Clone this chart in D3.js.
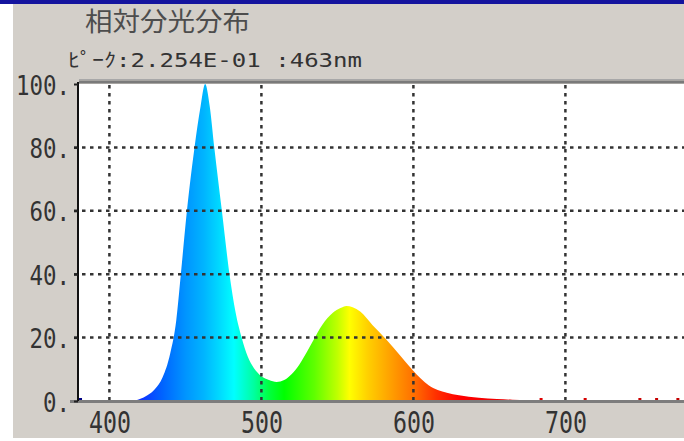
<!DOCTYPE html>
<html>
<head>
<meta charset="utf-8">
<script src="https://cdn.jsdelivr.net/npm/d3@7"></script>
<style>
html, body { margin: 0; padding: 0; background: #fff; }
svg { display: block; }
</style>
</head>
<body>
<svg width="684" height="441"></svg>
<script>
//	chart texts
var title = "相対分光分布",
    peakText = "ﾋﾟｰｸ:2.254E-01  :463nm";

//	axis ticks
var xTicks = [400, 500, 600, 700],
    yTicks = [0, 20, 40, 60, 80, 100];

//	relative spectrum (nm, %)
var wavelengths = [380, 415, 420, 425, 430, 435, 440, 444, 447, 451,
                   456, 460, 463, 466, 469, 474, 479, 483, 487, 491,
                   495, 500, 505, 510, 515, 520, 525, 530, 534, 540,
                   547, 552, 556, 560, 565, 573, 582, 591, 599, 605,
                   610, 616, 622, 630, 643, 655, 665, 675, 680, 780];
var intensity = [0, 0, 0.6, 1.8, 3.8, 7.5, 15, 25.5, 40, 60,
                 80, 93, 100, 93, 80, 60, 40, 28, 20, 14,
                 10.4, 7.8, 6.6, 6, 6.6, 8.5, 11.5, 15.5, 19, 24,
                 27.8, 29.3, 30, 29.6, 28.2, 24, 19.5, 14.5, 10, 7,
                 5, 3.5, 2.6, 1.8, 1, 0.6, 0.4, 0.3, 0, 0];

//	stray dots on the baseline
var dotWavelengths = [381, 684, 713, 749, 760, 774];

//	spectrum colours
var colorNm  = [380, 420, 435, 450, 462, 472, 482, 495, 505, 515, 535, 550, 558, 570, 585, 600, 615, 630, 680, 780];
var colorHex = ["#000080", "#1030ff", "#0064ff", "#0094ff", "#00b4ff", "#00d8ff", "#00ffff", "#00ffa0", "#00ff40", "#00ff00",
                "#60ff00", "#c0ff00", "#ffff00", "#ffd000", "#ffa000", "#ff7000", "#ff3000", "#ff0000", "#e00000", "#c00000"];

var svg = d3.select("svg");

var x = d3.scaleLinear().domain([380, 780]).range([79, 687]),
    y = d3.scaleLinear().domain([0, 100]).range([401, 84]),
    color = d3.scaleLinear().domain(colorNm).range(colorHex);

var spectrum = wavelengths.map(function(d, i) { return { nm: d, v: intensity[i] }; });

// window frame
svg.append("rect").attr("width", 684).attr("height", 441).attr("fill", "#fff");
svg.append("rect").attr("x", 13).attr("y", 4).attr("width", 671).attr("height", 434).attr("fill", "#d3cfc9");
svg.append("rect").attr("width", 684).attr("height", 4).attr("fill", "#14149e");

// titles
svg.append("text")
    .attr("x", 85).attr("y", 31)
    .attr("font-family", "'Noto Sans CJK JP', sans-serif")
    .attr("font-size", 26)
    .attr("fill", "#4d4d4d")
    .attr("textLength", 165)
    .attr("lengthAdjust", "spacingAndGlyphs")
    .text(title);

svg.append("text")
    .attr("x", 68).attr("y", 67)
    .attr("font-family", "'DejaVu Sans Mono', 'Noto Sans CJK JP', monospace")
    .attr("font-size", 19)
    .attr("fill", "#333")
    .attr("textLength", 294)
    .attr("lengthAdjust", "spacingAndGlyphs")
    .text(peakText);

// plot area
var defs = svg.append("defs");
defs.append("clipPath").attr("id", "plot-clip")
  .append("rect").attr("x", 79).attr("y", 84).attr("width", 605).attr("height", 317);

var grad = defs.append("linearGradient")
    .attr("id", "spec")
    .attr("gradientUnits", "userSpaceOnUse")
    .attr("x1", x(380)).attr("x2", x(780))
    .attr("y1", 0).attr("y2", 0);
grad.selectAll("stop")
    .data(colorNm)
  .enter().append("stop")
    .attr("offset", function(d) { return (d - 380) / 400; })
    .attr("stop-color", function(d) { return color(d); });

svg.append("rect").attr("x", 79).attr("y", 84).attr("width", 605).attr("height", 317).attr("fill", "#fff");

var plot = svg.append("g").attr("clip-path", "url(#plot-clip)");

var area = d3.area()
    .x(function(d) { return x(d.nm); })
    .y0(y(0))
    .y1(function(d) { return y(d.v); })
    .curve(d3.curveMonotoneX);

plot.append("path")
    .datum(spectrum)
    .attr("d", area)
    .attr("fill", "url(#spec)");

plot.selectAll(".dot")
    .data(dotWavelengths)
  .enter().append("rect")
    .attr("class", "dot")
    .attr("x", function(d) { return x(d) - 1.5; })
    .attr("y", y(0) - 3)
    .attr("width", 3).attr("height", 3)
    .attr("fill", function(d) { return color(d); });

// dotted grid
svg.append("g").selectAll("line")
    .data(yTicks.filter(function(d) { return d > 0 && d < 100; }))
  .enter().append("line")
    .attr("x1", 74).attr("x2", 684)
    .attr("y1", function(d) { return y(d); })
    .attr("y2", function(d) { return y(d); })
    .attr("stroke", "#333")
    .attr("stroke-width", 2.5)
    .attr("stroke-dasharray", "3.5,4.5");

svg.append("g").selectAll("line")
    .data(xTicks)
  .enter().append("line")
    .attr("x1", function(d) { return x(d); })
    .attr("x2", function(d) { return x(d); })
    .attr("y1", 85).attr("y2", 405)
    .attr("stroke", "#333")
    .attr("stroke-width", 2.5)
    .attr("stroke-dasharray", "3.5,4.5");

// frame lines
svg.append("line").attr("x1", 79).attr("x2", 684).attr("y1", 79.5).attr("y2", 79.5).attr("stroke", "#a8a8a8");
svg.append("line").attr("x1", 79).attr("x2", 684).attr("y1", 82).attr("y2", 82).attr("stroke", "#7a7a7a").attr("stroke-width", 3);
svg.append("line").attr("x1", 70).attr("x2", 684).attr("y1", 401.5).attr("y2", 401.5).attr("stroke", "#7d7d7d").attr("stroke-width", 3);
svg.append("line").attr("x1", 78).attr("x2", 78).attr("y1", 82).attr("y2", 401).attr("stroke", "#111").attr("stroke-width", 2);

// axes
var yAxis = svg.append("g")
    .attr("transform", "translate(78,0)")
    .call(d3.axisLeft(y).tickValues(yTicks).tickSize(4).tickPadding(4)
        .tickFormat(function(d) { return d + "."; }));
yAxis.select(".domain").remove();
yAxis.selectAll(".tick line").attr("stroke", "#222").attr("stroke-width", 2);
yAxis.selectAll("text")
    .attr("font-family", "'DejaVu Sans Mono', monospace")
    .attr("font-size", 27)
    .attr("fill", "#333")
    .attr("dy", "0.37em")
    .attr("textLength", function(d) { return (d + ".").length * 13.5; })
    .attr("lengthAdjust", "spacingAndGlyphs");

var xAxis = svg.append("g")
    .attr("transform", "translate(0,401)")
    .call(d3.axisBottom(x).tickValues(xTicks).tickSize(0));
xAxis.select(".domain").remove();
xAxis.selectAll("text")
    .attr("font-family", "'DejaVu Sans Mono', monospace")
    .attr("font-size", 30)
    .attr("fill", "#333")
    .attr("y", 32)
    .attr("dy", null)
    .attr("textLength", 42)
    .attr("lengthAdjust", "spacingAndGlyphs");
</script>
</body>
</html>
